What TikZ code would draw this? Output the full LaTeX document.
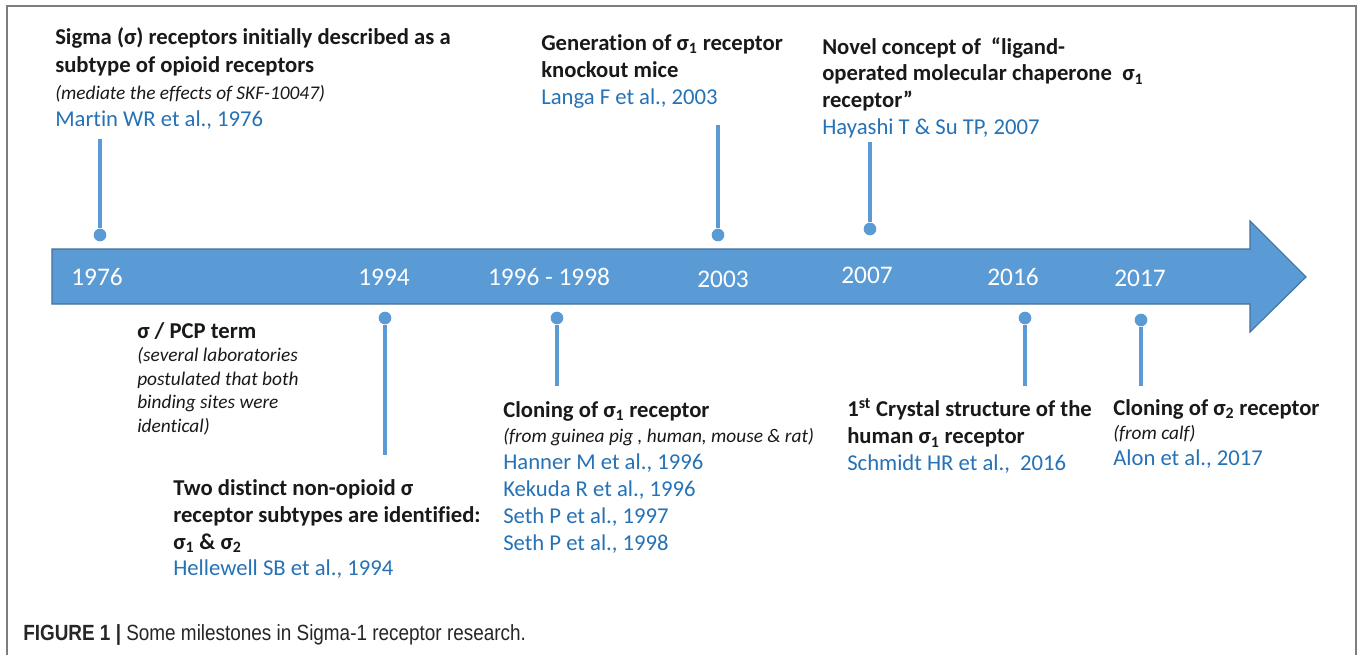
\documentclass[tikz,border=0pt]{standalone}
\usepackage{fontspec}
\setmainfont{Carlito}[Ligatures=NoCommon]
\newfontfamily\capfont[FakeStretch=0.86]{Liberation Sans}
\definecolor{tlblue}{RGB}{91,155,213}
\definecolor{tledge}{RGB}{65,113,156}
\definecolor{refblue}{RGB}{38,114,182}
\definecolor{framegray}{RGB}{125,125,125}
\tikzset{
  yearlbl/.style={text=white, inner sep=0pt, font=\fontsize{19}{19}\selectfont},
  event/.style={anchor=north west, align=left, inner sep=0pt, text=black!90,
    font=\fontsize{17}{20.2}\selectfont\bfseries},
  pindot/.style={circle, fill=tlblue, inner sep=0pt, minimum size=9.5pt},
  pinline/.style={tlblue, line width=3.6pt},
}
\newcommand{\refby}[1]{{\mdseries\color{refblue}#1}}
\newcommand{\remark}[1]{{\mdseries\itshape\fontsize{14.5}{17.6}\selectfont #1}}
\newcommand{\sg}[1]{σ\textsubscript{#1}}
\begin{document}
\begin{tikzpicture}[x=0.75pt,y=-0.75pt]
\useasboundingbox (0,0) rectangle (1358,654);
\fill[white] (0,0) rectangle (1358,654);
% frame, open at the bottom
\draw[framegray, line width=1.5pt] (7,700) -- (7,6) -- (1356,6) -- (1356,700);
% the time arrow
\draw[tledge, fill=tlblue, line width=0.8pt] (52,249) -- (1250,249) -- (1250,221)
  -- (1306,277) -- (1250,332) -- (1250,304) -- (52,304) -- cycle;
% years
\node[yearlbl] (y1976) at (97,277) {1976};
\node[yearlbl] (y1994) at (384,277) {1994};
\node[yearlbl] (y1996) at (549,277) {1996 - 1998};
\node[yearlbl] (y2003) at (723,279) {2003};
\node[yearlbl] (y2007) at (867,275) {2007};
\node[yearlbl] (y2016) at (1013,277) {2016};
\node[yearlbl] (y2017) at (1140,278) {2017};
% pins above the arrow
\node[pindot] (p1976) at (100,235) {};
\coordinate (t1976) at (100,139);
\draw[pinline] (p1976) -- (t1976);
\node[pindot] (p2003) at (718,235) {};
\coordinate (t2003) at (718,125);
\draw[pinline] (p2003) -- (t2003);
\node[pindot] (p2007) at (870,229) {};
\coordinate (t2007) at (870,142);
\draw[pinline] (p2007) -- (t2007);
% pins below the arrow
\node[pindot] (p1994) at (385,318) {};
\coordinate (b1994) at (385,455);
\draw[pinline] (p1994) -- (b1994);
\node[pindot] (p1996) at (557,318) {};
\coordinate (b1996) at (557,386);
\draw[pinline] (p1996) -- (b1996);
\node[pindot] (p2016) at (1025,318) {};
\coordinate (b2016) at (1025,386);
\draw[pinline] (p2016) -- (b2016);
\node[pindot] (p2017) at (1141,320) {};
\coordinate (b2017) at (1141,386);
\draw[pinline] (p2017) -- (b2017);
% events
\node[event] (e1976) at (55,27) {Sigma (σ) receptors initially described as a\\[1pt]
  subtype of opioid receptors\\ \remark{(mediate the effects of SKF-10047)}\\
  \refby{Martin WR et al., 1976}};
\node[event] (e2003) at (541,34) {Generation of \sg{1} receptor\\ knockout mice\\
  \refby{Langa F et al., 2003}};
\node[event] (e2007) at (822,37) {Novel concept of\ \ “ligand-\\
  operated molecular chaperone\ \ \sg{1}\\ receptor”\\
  \refby{Hayashi T \& Su TP, 2007}};
\node[event, font=\fontsize{17}{17.6}\selectfont\bfseries] (epcp) at (137,322)
  {σ / PCP term\\ \remark{(several laboratories}\\
  \remark{postulated that both}\\ \remark{binding sites were}\\ \remark{identical)}};
\node[event] (e1994) at (173,479) {Two distinct non-opioid σ\\
  receptor subtypes are identified:\\ \sg{1} \& \sg{2}\\
  \refby{Hellewell SB et al., 1994}};
\node[event] (e1996) at (503,401) {Cloning of \sg{1} receptor\\[-1pt]
  \remark{(from guinea pig , human, mouse \& rat)}\\ \refby{Hanner M et al., 1996}\\
  \refby{Kekuda R et al., 1996}\\ \refby{Seth P et al., 1997}\\ \refby{Seth P et al., 1998}};
\node[event] (e2016) at (847,398) {1\textsuperscript{st} Crystal structure of the\\
  human \sg{1} receptor\\ \refby{Schmidt HR et al.,\ \ 2016}};
\node[event] (e2017) at (1113,399) {Cloning of \sg{2} receptor\\[-2pt] \remark{(from calf)}\\[-1pt]
  \refby{Alon et al., 2017}};
% caption
\node[anchor=base west, inner sep=0pt, font=\capfont\fontsize{16.5}{18}\selectfont,
  text=black!85] (cap) at (23,640) {\textbf{FIGURE 1 |} Some milestones in Sigma-1 receptor research.};
\end{tikzpicture}
\end{document}
